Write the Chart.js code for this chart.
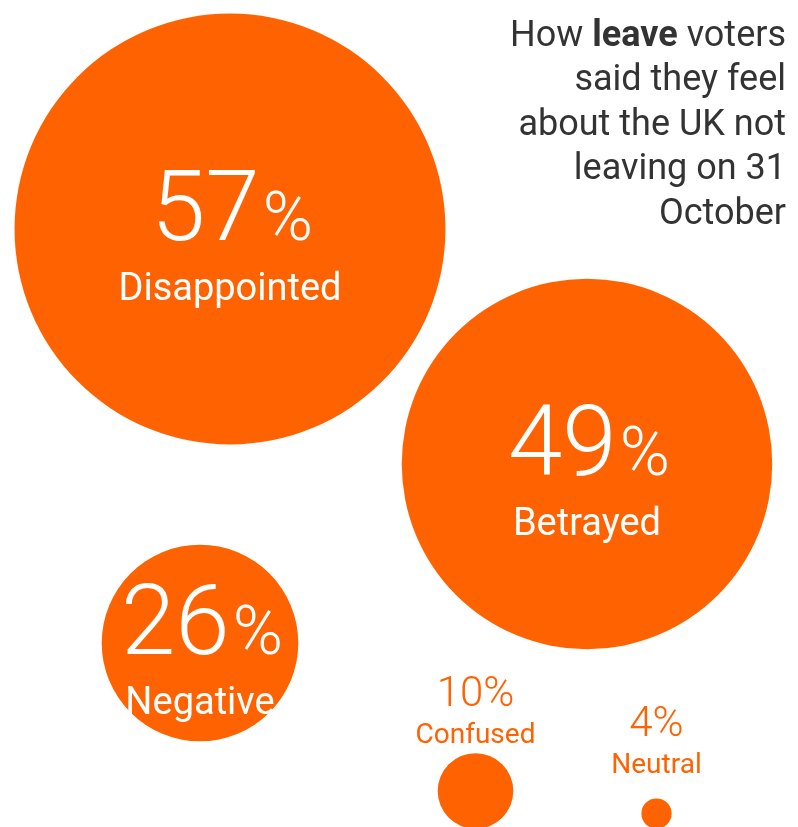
<!DOCTYPE html>
<html>
<head>
<meta charset="utf-8">
<script src="https://cdn.jsdelivr.net/npm/chart.js@4"></script>
<style>
  html, body { margin: 0; padding: 0; background: #ffffff; }
  #wrap { width: 798px; height: 827px; }
  canvas { display: block; }
</style>
</head>
<body>
<div id="wrap"><canvas id="chart" width="798" height="827"></canvas></div>
<script>
// How leave voters said they feel about the UK not leaving on 31 October
const feelings = ['Disappointed', 'Betrayed', 'Negative', 'Confused', 'Neutral'];
const shares = [57, 49, 26, 10, 4];

// Bubble layout: centres in plot units (1 unit = 1 px of the 798 x 827 plot)
const X_MIN = 0, X_MAX = 798, Y_MIN = 0, Y_MAX = 827;
const centreX = [230, 587, 200, 475.5, 656.5];
const centreY = [229, 464, 643, 791, 813.5];
// Caption placement: inside the bubble, or stacked above it
const captionAbove = [false, false, false, true, true];
const captionLift = [0, 0, 0, 10, 25];

// Title lines, split into [text, bold] runs
const titleLines = [
  [['How ', false], ['leave', true], [' voters', false]],
  [['said they feel', false]],
  [['about the UK not', false]],
  [['leaving on 31', false]],
  [['October', false]]
];

const ORANGE = '#FF6200';
const INK = '#333333';
const FONT = 'Roboto, "Open Sans", "Noto Sans", sans-serif';
const UNITS_PER_POINT = 3.78; // bubble radius per percentage point, in x-axis units

const titlePlugin = {
  id: 'rightTitle',
  afterDraw(chart) {
    const ctx = chart.ctx;
    const right = 786;
    const firstBaseline = 45.5;
    const lineStep = 44.6;
    ctx.save();
    ctx.fillStyle = INK;
    ctx.textAlign = 'left';
    ctx.textBaseline = 'alphabetic';
    titleLines.forEach((runs, li) => {
      const widths = runs.map(([t, b]) => {
        ctx.font = `${b ? 700 : 400} 36px ${FONT}`;
        return ctx.measureText(t).width;
      });
      let x = right - widths.reduce((a, w) => a + w, 0);
      const y = firstBaseline + li * lineStep;
      runs.forEach(([t, b], ri) => {
        ctx.font = `${b ? 700 : 400} 36px ${FONT}`;
        ctx.fillText(t, x, y);
        x += widths[ri];
      });
    });
    ctx.restore();
  }
};

const captions = {
  id: 'captions',
  afterDatasetsDraw(chart) {
    const ctx = chart.ctx;
    const meta = chart.getDatasetMeta(0);
    ctx.save();
    ctx.textBaseline = 'alphabetic';
    meta.data.forEach((el, i) => {
      const x = el.x, y = el.y, r = el.options.radius;
      const num = String(shares[i]);
      if (!captionAbove[i]) {
        ctx.fillStyle = '#ffffff';
        const bigFont = `300 98px ${FONT}`;
        const pctFont = `300 68px ${FONT}`;
        ctx.font = bigFont;
        const wn = ctx.measureText(num).width;
        ctx.font = pctFont;
        const wp = ctx.measureText('%').width;
        const gap = 3;
        const left = x + 2 - (wn + gap + wp) / 2;
        ctx.textAlign = 'left';
        ctx.font = bigFont;
        ctx.fillText(num, left, y + 11);
        ctx.font = pctFont;
        ctx.fillText('%', left + wn + gap, y + 11);
        ctx.textAlign = 'center';
        ctx.font = `400 38px ${FONT}`;
        ctx.fillText(feelings[i], x, y + 71);
      } else {
        ctx.fillStyle = ORANGE;
        ctx.textAlign = 'center';
        const base = y - r - captionLift[i];
        ctx.font = `400 28px ${FONT}`;
        ctx.fillText(feelings[i], x, base);
        ctx.font = `300 42px ${FONT}`;
        ctx.fillText(num + '%', x, base - 37);
      }
    });
    ctx.restore();
  }
};

function draw() {
  new Chart(document.getElementById('chart'), {
    type: 'bubble',
    data: {
      labels: feelings,
      datasets: [{
        label: 'Share of leave voters',
        data: shares.map((v, i) => ({ x: centreX[i], y: centreY[i], v })),
        backgroundColor: ORANGE,
        hoverBackgroundColor: ORANGE,
        borderWidth: 0,
        hoverBorderWidth: 0,
        clip: false,
        // radius grows linearly with the share, measured in x-axis units
        radius: (c) => {
          if (!c.raw) return 0;
          const pxPerUnit = c.chart.width / (X_MAX - X_MIN);
          return c.raw.v * UNITS_PER_POINT * pxPerUnit;
        }
      }]
    },
    options: {
      responsive: false,
      animation: false,
      devicePixelRatio: 1,
      events: [],
      layout: { padding: 0, autoPadding: false },
      scales: {
        x: { type: 'linear', min: X_MIN, max: X_MAX, display: false },
        y: { type: 'linear', min: Y_MIN, max: Y_MAX, reverse: true, display: false }
      },
      plugins: {
        legend: { display: false },
        tooltip: { enabled: false },
        title: { display: false }
      }
    },
    plugins: [titlePlugin, captions]
  });
}

if (document.fonts && document.fonts.load) {
  Promise.all([
    document.fonts.load('300 98px Roboto'),
    document.fonts.load('400 36px Roboto'),
    document.fonts.load('700 36px Roboto')
  ]).then(draw, draw);
} else {
  draw();
}
</script>
</body>
</html>
